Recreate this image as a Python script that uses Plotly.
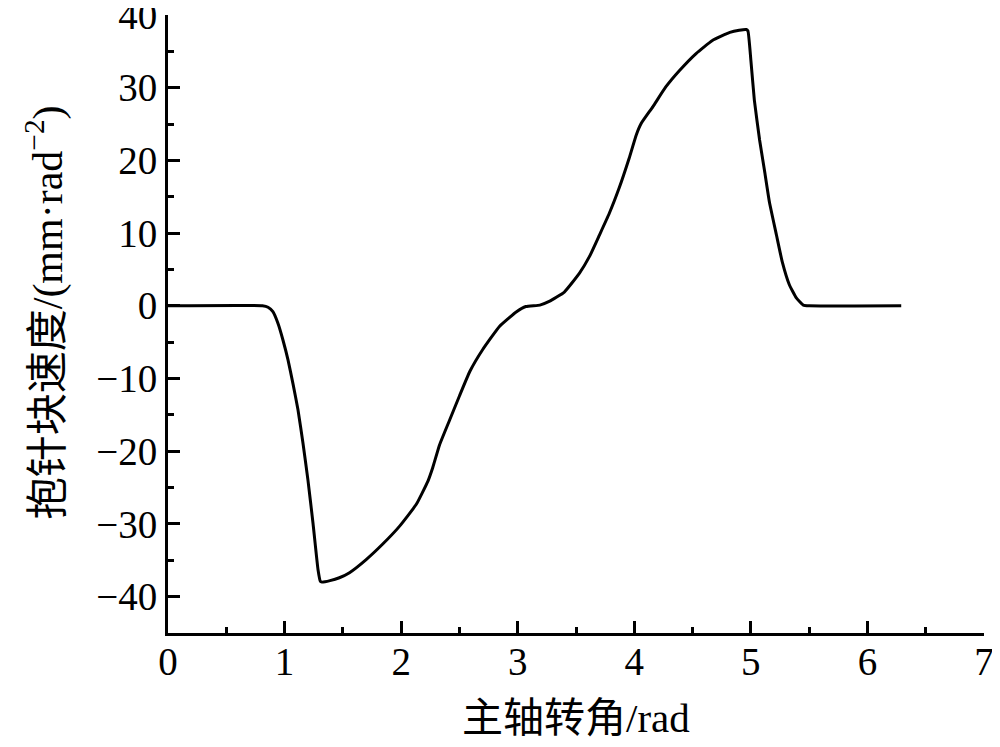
import plotly.graph_objects as go

# Data
x_rad = [0, 0.81, 0.858, 0.90, 0.943, 0.986, 1.029, 1.072, 1.115, 1.158, 1.20, 1.244,
         1.287, 1.307, 1.32, 1.39, 1.47, 1.557, 1.70, 1.84, 1.987, 2.13, 2.23, 2.27,
         2.33, 2.416, 2.50, 2.59, 2.70, 2.845, 2.99, 3.07, 3.19, 3.27, 3.40,
         3.53, 3.616, 3.70, 3.785, 3.87, 3.956, 4.017, 4.06, 4.16, 4.27, 4.39, 4.53,
         4.67, 4.82, 4.90, 4.96, 4.975, 5.00, 5.03, 5.075, 5.12, 5.16, 5.22, 5.27,
         5.33, 5.39, 5.45, 5.50, 6.29]
y_acc = [0, 0, -0.2, -0.8, -2.4, -4.7, -7.4, -10.7, -14.3, -18.9, -23.9, -29.9,
         -36.3, -37.9, -38.0, -37.8, -37.4, -36.7, -34.9, -32.8, -30.3, -27.3, -24.1, -22.3,
         -19.1, -15.7, -12.4, -9.0, -6.0, -2.8, -0.8, -0.1, 0.1, 0.6, 1.9,
         4.5, 6.8, 9.7, 12.7, 16.2, 20.3, 23.5, 25.1, 27.4, 30.1, 32.4, 34.7,
         36.5, 37.6, 37.9, 38.0, 37.8, 33.8, 28.3, 22.8, 18.3, 14.2, 9.7, 6.0,
         2.9, 1.1, 0.1, 0, 0]

x_ticks = [0, 1, 2, 3, 4, 5, 6, 7]
y_ticks = [-40, -30, -20, -10, 0, 10, 20, 30, 40]

x_title = "主轴转角/rad"
y_title = "抱针块速度/(mm·rad<sup>−2</sup>)"

FONT = "Liberation Serif, Times New Roman, Noto Sans CJK SC, serif"

fig = go.Figure()
fig.add_trace(go.Scatter(
    x=x_rad, y=y_acc, mode="lines",
    line=dict(color="black", width=3, shape="spline", smoothing=0.4),
    showlegend=False, hoverinfo="skip",
))

axis_common = dict(
    showline=True, linecolor="black", linewidth=3,
    ticks="inside", ticklen=12, tickwidth=3, tickcolor="black",
    showgrid=False, zeroline=False, mirror=False, automargin=False,
    ticklabeloverflow="allow",
    tickfont=dict(family=FONT, size=39, color="black"),
)

fig.update_xaxes(
    range=[0, 7], tickvals=x_ticks, ticktext=[str(v) for v in x_ticks],
    ticklabelstandoff=-8,
    minor=dict(ticks="inside", ticklen=6, tickwidth=3, tickcolor="black", dtick=0.5, tick0=0, showgrid=False),
    **axis_common,
)
fig.update_yaxes(
    range=[-45, 40], tickvals=y_ticks, ticktext=[str(v).replace("-", "−") for v in y_ticks],
    minor=dict(ticks="inside", ticklen=6, tickwidth=3, tickcolor="black", dtick=5, tick0=0, showgrid=False),
    **axis_common,
)

fig.add_annotation(
    text=x_title, xref="paper", yref="paper", x=0.5, y=-0.137,
    xanchor="center", yanchor="middle", showarrow=False,
    font=dict(family=FONT, size=41, color="black"),
)
fig.add_annotation(
    text=y_title, xref="paper", yref="paper", x=-0.151, y=0.5186,
    xanchor="center", yanchor="middle", showarrow=False, textangle=-90,
    font=dict(family=FONT, size=42, color="black"),
)

# the page adds an 8 px body margin, so the figure is made 8 px smaller
fig.update_layout(
    width=992, height=739,
    margin=dict(l=160, r=16, t=7, b=114),
    paper_bgcolor="white", plot_bgcolor="white",
)

fig.write_html("out.html")
